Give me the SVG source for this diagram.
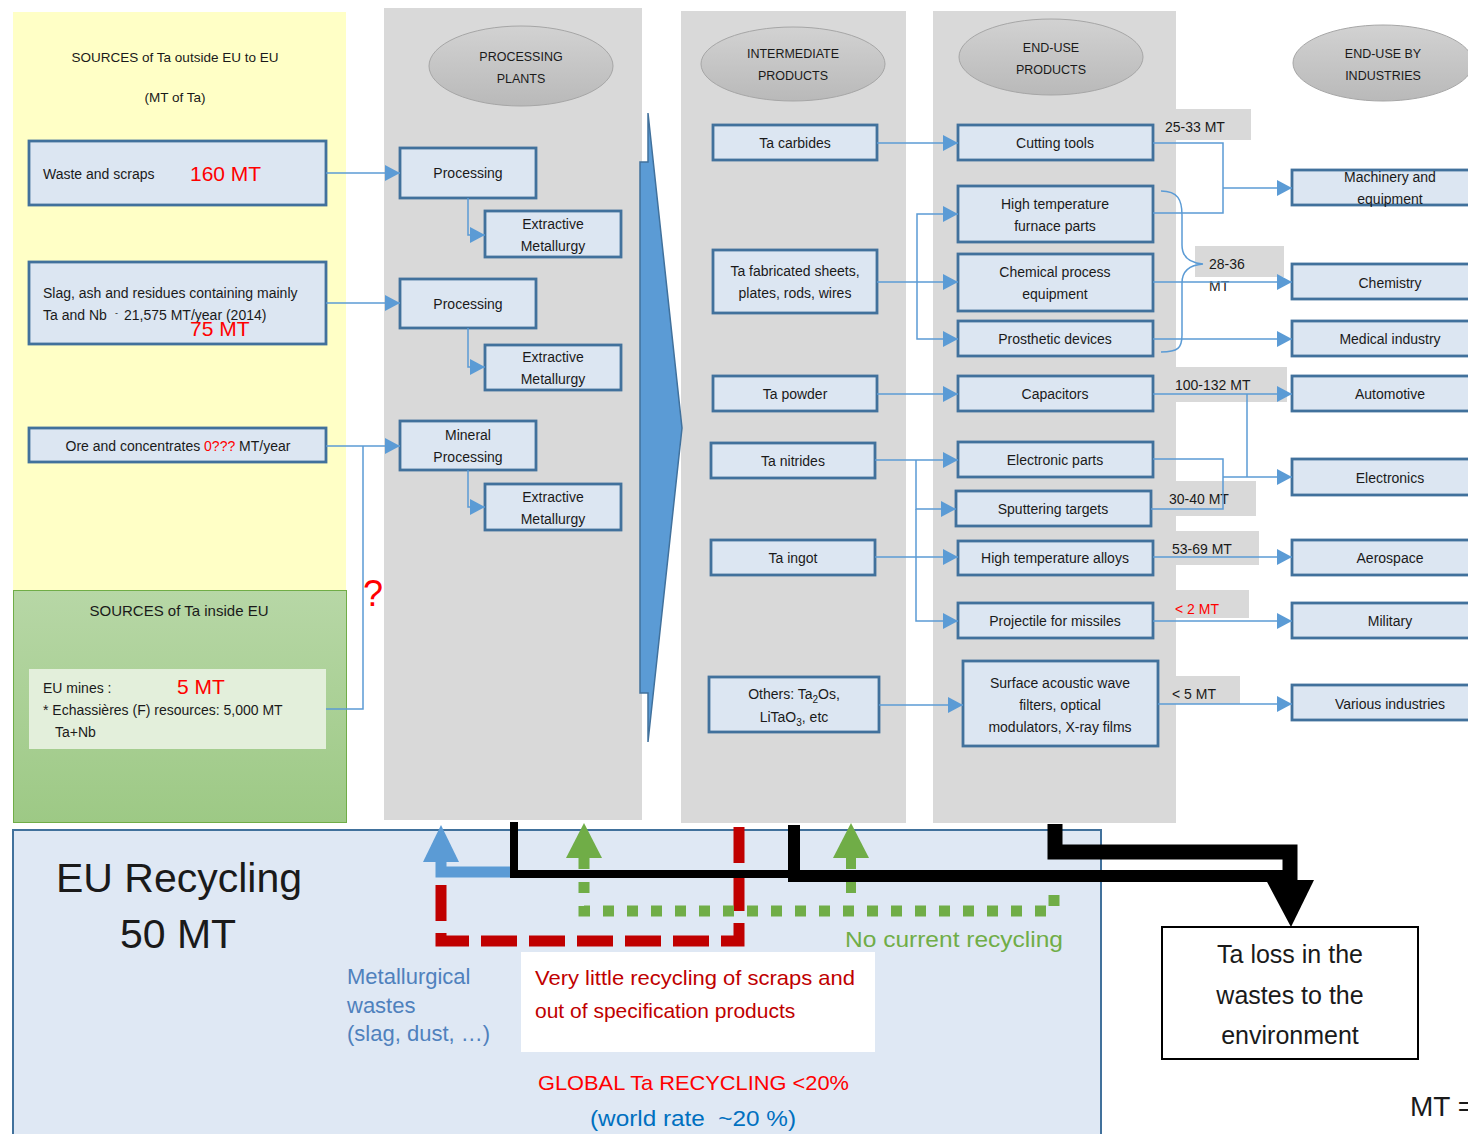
<svg xmlns="http://www.w3.org/2000/svg" width="1468" height="1134" viewBox="0 0 1468 1134">
<defs>
<style>
text{font-family:"Liberation Sans",Arial,sans-serif;fill:#1a1a1a}
.t14{font-size:14px}
.t13{font-size:13.5px}
.mid{text-anchor:middle}
.box{fill:#dce6f2;stroke:#41719c;stroke-width:2.8}
.panel{fill:#d9d9d9}
.lab{fill:#d9d9d9}
.ell{fill:url(#eg);stroke:#a6a6a6;stroke-width:1}
.et{font-size:12.5px;text-anchor:middle}
.con{fill:none;stroke:#5b9bd5;stroke-width:1.5}
.red{fill:#ff0000}
.big{font-size:21px}
</style>
<linearGradient id="eg" x1="0" y1="0" x2="0" y2="1"><stop offset="0" stop-color="#d2d2d2"/><stop offset="1" stop-color="#b9b9b9"/></linearGradient>
<linearGradient id="gg" x1="0" y1="0" x2="0" y2="1"><stop offset="0" stop-color="#b7d7a6"/><stop offset="1" stop-color="#9dc985"/></linearGradient>
<marker id="ar" markerUnits="userSpaceOnUse" markerWidth="16" markerHeight="16" refX="15" refY="8" orient="auto"><path d="M0,0 L15,8 L0,16 z" fill="#5b9bd5"/></marker>
</defs>

<!-- backgrounds -->
<rect x="13" y="12" width="333" height="578" fill="#ffffc6"/>
<rect x="13.5" y="590.5" width="333" height="232" fill="url(#gg)" stroke="#70ad47" stroke-width="1"/>
<rect class="panel" x="384" y="8" width="258" height="812"/>
<rect class="panel" x="681" y="11" width="225" height="812"/>
<rect class="panel" x="933" y="11" width="243" height="812"/>
<rect class="lab" x="1159" y="109" width="92" height="31"/>
<rect class="lab" x="1195" y="246" width="89" height="31"/>
<rect class="lab" x="1159" y="367" width="128" height="35"/>
<rect class="lab" x="1159" y="481" width="97" height="35"/>
<rect class="lab" x="1159" y="531" width="100" height="34"/>
<rect class="lab" x="1159" y="590" width="90" height="28"/>
<rect class="lab" x="1159" y="676" width="81" height="28"/>
<rect x="13" y="830" width="1088" height="310" fill="#dfe8f4" stroke="#41719c" stroke-width="2"/>

<!-- headers -->
<g id="hdr-sources">
<text class="t13 mid" x="175" y="62">SOURCES of Ta outside EU to EU</text>
<text class="t13 mid" x="175" y="102">(MT of Ta)</text>
</g>
<g id="hdr-processing"><ellipse class="ell" cx="521" cy="66" rx="92" ry="40"/><text class="et" x="521" y="61">PROCESSING</text><text class="et" x="521" y="83">PLANTS</text></g>
<g id="hdr-intermediate"><ellipse class="ell" cx="793" cy="64" rx="92" ry="37"/><text class="et" x="793" y="58">INTERMEDIATE</text><text class="et" x="793" y="80">PRODUCTS</text></g>
<g id="hdr-enduse"><ellipse class="ell" cx="1051" cy="57" rx="92" ry="38"/><text class="et" x="1051" y="52">END-USE</text><text class="et" x="1051" y="74">PRODUCTS</text></g>
<g id="hdr-industries"><ellipse class="ell" cx="1383" cy="63" rx="90" ry="38"/><text class="et" x="1383" y="58">END-USE BY</text><text class="et" x="1383" y="80">INDUSTRIES</text></g>

<!-- sources -->
<g id="src-waste"><rect class="box" x="29" y="141" width="297" height="64"/><text class="t14" x="43" y="179">Waste and scraps</text><text class="big red" x="190" y="181">160 MT</text></g>
<g id="src-slag"><rect class="box" x="29" y="262" width="297" height="82"/><text class="t14" x="43" y="298">Slag, ash and residues containing mainly</text><text class="t14" x="43" y="320">Ta and Nb</text><text style="font-size:9px" x="115" y="316">-</text><text class="t14" x="124" y="320">21,575 MT/year (2014)</text><text class="big red" x="190" y="336">75 MT</text></g>
<g id="src-ore"><rect class="box" x="29" y="428" width="297" height="34"/><text class="t14 mid" x="178" y="451">Ore and concentrates <tspan class="red">0???</tspan> MT/year</text></g>
<g id="src-eu">
<text class="mid" style="font-size:15px" x="179" y="616">SOURCES of Ta inside EU</text>
<rect x="29" y="669" width="297" height="80" fill="#e3efdb"/>
<text class="t14" x="43" y="693">EU mines :</text><text class="big red" x="177" y="694">5 MT</text>
<text class="t14" x="43" y="715">* Echassières (F) resources: 5,000 MT</text>
<text class="t14" x="55" y="737">Ta+Nb</text>
</g>
<text x="363" y="606" style="font-size:36px;fill:#ff0000">?</text>

<!-- processing -->
<g id="proc1"><rect class="box" x="400" y="148" width="136" height="50"/><text class="t14 mid" x="468" y="178">Processing</text></g>
<g id="ext1"><rect class="box" x="485" y="211" width="136" height="46"/><text class="t14 mid" x="553" y="229">Extractive</text><text class="t14 mid" x="553" y="251">Metallurgy</text></g>
<g id="proc2"><rect class="box" x="400" y="279" width="136" height="49"/><text class="t14 mid" x="468" y="309">Processing</text></g>
<g id="ext2"><rect class="box" x="485" y="345" width="136" height="45"/><text class="t14 mid" x="553" y="362">Extractive</text><text class="t14 mid" x="553" y="384">Metallurgy</text></g>
<g id="proc3"><rect class="box" x="400" y="421" width="136" height="49"/><text class="t14 mid" x="468" y="440">Mineral</text><text class="t14 mid" x="468" y="462">Processing</text></g>
<g id="ext3"><rect class="box" x="485" y="484" width="136" height="46"/><text class="t14 mid" x="553" y="502">Extractive</text><text class="t14 mid" x="553" y="524">Metallurgy</text></g>

<g id="big-arrow"><polygon points="640,162 648,162 648,113 682,428 648,742 648,693 640,693" fill="#5b9bd5" stroke="#41719c" stroke-width="1.5"/></g>

<!-- intermediate -->
<g id="int-carbides"><rect class="box" x="713" y="125" width="164" height="35"/><text class="t14 mid" x="795" y="148">Ta carbides</text></g>
<g id="int-sheets"><rect class="box" x="713" y="250" width="164" height="63"/><text class="t14 mid" x="795" y="276">Ta fabricated sheets,</text><text class="t14 mid" x="795" y="298">plates, rods, wires</text></g>
<g id="int-powder"><rect class="box" x="713" y="376" width="164" height="35"/><text class="t14 mid" x="795" y="399">Ta powder</text></g>
<g id="int-nitrides"><rect class="box" x="711" y="443" width="164" height="35"/><text class="t14 mid" x="793" y="466">Ta nitrides</text></g>
<g id="int-ingot"><rect class="box" x="711" y="540" width="164" height="35"/><text class="t14 mid" x="793" y="563">Ta ingot</text></g>
<g id="int-others"><rect class="box" x="709" y="677" width="170" height="55"/><text class="t14 mid" x="794" y="699">Others: Ta<tspan style="font-size:10px" dy="4">2</tspan><tspan dy="-4">Os,</tspan></text><text class="t14 mid" x="794" y="722">LiTaO<tspan style="font-size:10px" dy="4">3</tspan><tspan dy="-4">, etc</tspan></text></g>

<!-- end-use products -->
<g id="eu-cutting"><rect class="box" x="958" y="125" width="195" height="35"/><text class="t14 mid" x="1055" y="148">Cutting tools</text></g>
<g id="eu-furnace"><rect class="box" x="958" y="186" width="195" height="56"/><text class="t14 mid" x="1055" y="209">High temperature</text><text class="t14 mid" x="1055" y="231">furnace parts</text></g>
<g id="eu-chem"><rect class="box" x="958" y="254" width="195" height="57"/><text class="t14 mid" x="1055" y="277">Chemical process</text><text class="t14 mid" x="1055" y="299">equipment</text></g>
<g id="eu-prosth"><rect class="box" x="958" y="321" width="195" height="35"/><text class="t14 mid" x="1055" y="344">Prosthetic devices</text></g>
<g id="eu-capac"><rect class="box" x="958" y="376" width="195" height="35"/><text class="t14 mid" x="1055" y="399">Capacitors</text></g>
<g id="eu-elec"><rect class="box" x="958" y="442" width="195" height="35"/><text class="t14 mid" x="1055" y="465">Electronic parts</text></g>
<g id="eu-sputter"><rect class="box" x="956" y="491" width="195" height="35"/><text class="t14 mid" x="1053" y="514">Sputtering targets</text></g>
<g id="eu-alloys"><rect class="box" x="958" y="541" width="195" height="34"/><text class="t14 mid" x="1055" y="563">High temperature alloys</text></g>
<g id="eu-proj"><rect class="box" x="958" y="603" width="195" height="35"/><text class="t14 mid" x="1055" y="626">Projectile for missiles</text></g>
<g id="eu-saw"><rect class="box" x="963" y="661" width="195" height="85"/><text class="t14 mid" x="1060" y="688">Surface acoustic wave</text><text class="t14 mid" x="1060" y="710">filters, optical</text><text class="t14 mid" x="1060" y="732">modulators, X-ray films</text></g>

<!-- industries -->
<g id="ind-mach"><rect class="box" x="1292" y="170" width="200" height="35"/><text class="t14 mid" x="1390" y="182">Machinery and</text><text class="t14 mid" x="1390" y="204">equipment</text></g>
<g id="ind-chem"><rect class="box" x="1292" y="264" width="200" height="35"/><text class="t14 mid" x="1390" y="288">Chemistry</text></g>
<g id="ind-med"><rect class="box" x="1292" y="321" width="200" height="35"/><text class="t14 mid" x="1390" y="344">Medical industry</text></g>
<g id="ind-auto"><rect class="box" x="1292" y="376" width="200" height="35"/><text class="t14 mid" x="1390" y="399">Automotive</text></g>
<g id="ind-elec"><rect class="box" x="1292" y="459" width="200" height="36"/><text class="t14 mid" x="1390" y="483">Electronics</text></g>
<g id="ind-aero"><rect class="box" x="1292" y="540" width="200" height="35"/><text class="t14 mid" x="1390" y="563">Aerospace</text></g>
<g id="ind-mil"><rect class="box" x="1292" y="603" width="200" height="35"/><text class="t14 mid" x="1390" y="626">Military</text></g>
<g id="ind-var"><rect class="box" x="1292" y="685" width="200" height="35"/><text class="t14 mid" x="1390" y="709">Various industries</text></g>

<!-- flow labels -->
<g id="flow-labels" class="t14">
<text x="1165" y="132">25-33 MT</text>
<text x="1209" y="269">28-36</text><text x="1209" y="291">MT</text>
<text x="1175" y="390">100-132 MT</text>
<text x="1169" y="504">30-40 MT</text>
<text x="1172" y="554">53-69 MT</text>
<text x="1175" y="614" class="red">&lt; 2 MT</text>
<text x="1172" y="699">&lt; 5 MT</text>
</g>

<!-- connectors -->
<g id="connectors">
<path class="con" d="M326,173 H400" marker-end="url(#ar)"/>
<path class="con" d="M326,303 H400" marker-end="url(#ar)"/>
<path class="con" d="M326,446 H400" marker-end="url(#ar)"/>
<path class="con" d="M326,709 H363 V446"/>
<path class="con" d="M468,198 V235 H485" marker-end="url(#ar)"/>
<path class="con" d="M468,328 V367 H485" marker-end="url(#ar)"/>
<path class="con" d="M468,470 V507 H485" marker-end="url(#ar)"/>

<path class="con" d="M877,143 H958" marker-end="url(#ar)"/>
<path class="con" d="M877,282 H958" marker-end="url(#ar)"/>
<path class="con" d="M917,282 V214 H958" marker-end="url(#ar)"/>
<path class="con" d="M917,282 V339 H958" marker-end="url(#ar)"/>
<path class="con" d="M877,394 H958" marker-end="url(#ar)"/>
<path class="con" d="M875,460 H958" marker-end="url(#ar)"/>
<path class="con" d="M875,557 H958" marker-end="url(#ar)"/>
<path class="con" d="M916,460 V509 H956" marker-end="url(#ar)"/>
<path class="con" d="M916,557 V621 H958" marker-end="url(#ar)"/>
<path class="con" d="M916,509 V557"/>
<path class="con" d="M879,705 H963" marker-end="url(#ar)"/>

<path class="con" d="M1153,143 H1223 V213 H1153"/>
<path class="con" d="M1223,188 H1292" marker-end="url(#ar)"/>
<path class="con" d="M1161,191 C1178,191 1182,200 1182,215 V245 C1182,258 1190,263 1203,264 C1190,265 1182,270 1182,283 V335 C1182,348 1178,352 1161,352"/>
<path class="con" d="M1153,282 H1292" marker-end="url(#ar)"/>
<path class="con" d="M1153,339 H1292" marker-end="url(#ar)"/>
<path class="con" d="M1153,394 H1292" marker-end="url(#ar)"/>
<path class="con" d="M1247,394 V477"/>
<path class="con" d="M1153,459 H1223 V509 H1151"/>
<path class="con" d="M1223,477 H1292" marker-end="url(#ar)"/>
<path class="con" d="M1153,557 H1292" marker-end="url(#ar)"/>
<path class="con" d="M1153,621 H1292" marker-end="url(#ar)"/>
<path class="con" d="M1158,704 H1292" marker-end="url(#ar)"/>

<!-- recycling flows -->
<path d="M441,885 V941 H739 V823" fill="none" stroke="#c00000" stroke-width="11" stroke-dasharray="36 12"/>
<path d="M584,858 V911 H1054 V882" fill="none" stroke="#70ad47" stroke-width="11" stroke-dasharray="11 13"/>
<path d="M851,858 V905" fill="none" stroke="#70ad47" stroke-width="10" stroke-dasharray="11 13"/>
<polygon points="584,823 566,858 602,858" fill="#70ad47"/>
<polygon points="851,823 833,858 869,858" fill="#70ad47"/>
<path d="M441,860 V872 H512" fill="none" stroke="#5b9bd5" stroke-width="11"/>
<polygon points="441,825 423,862 459,862" fill="#5b9bd5"/>
<path d="M514,822 V874 H792" fill="none" stroke="#000" stroke-width="8"/>
<path d="M794,825 V876 H1285" fill="none" stroke="#000" stroke-width="12"/>
<path d="M1055,824 V852 H1290 V882" fill="none" stroke="#000" stroke-width="15"/>
<polygon points="1266,880 1314,880 1291,927" fill="#000"/>
</g>

<!-- recycling texts -->
<g id="recycling">
<text x="56" y="892" style="font-size:41px">EU Recycling</text>
<text x="178" y="948" class="mid" style="font-size:41px">50 MT</text>
<text x="347" y="984" style="font-size:22px;fill:#4f81bd">Metallurgical</text>
<text x="347" y="1013" style="font-size:22px;fill:#4f81bd">wastes</text>
<text x="347" y="1041" style="font-size:22px;fill:#4f81bd">(slag, dust, …)</text>
<rect x="521" y="952" width="354" height="100" fill="#fff"/>
<text x="535" y="985" style="font-size:21px;fill:#c00000" textLength="320" lengthAdjust="spacingAndGlyphs">Very little recycling of scraps and</text>
<text x="535" y="1018" style="font-size:21px;fill:#c00000">out of specification products</text>
<text x="845" y="947" style="font-size:22px;fill:#70ad47" textLength="218" lengthAdjust="spacingAndGlyphs">No current recycling</text>
<text x="538" y="1090" style="font-size:21px;fill:#ff0000" textLength="311" lengthAdjust="spacingAndGlyphs">GLOBAL Ta RECYCLING &lt;20%</text>
<text x="590" y="1126" xml:space="preserve" style="font-size:22px;fill:#0070c0;white-space:pre" textLength="206" lengthAdjust="spacingAndGlyphs">(world rate  ~20 %)</text>
</g>

<g id="loss"><rect x="1162" y="927" width="256" height="132" fill="#fff" stroke="#000" stroke-width="2"/>
<text class="mid" x="1290" y="963" style="font-size:25px">Ta loss in the</text>
<text class="mid" x="1290" y="1004" style="font-size:25px">wastes to the</text>
<text class="mid" x="1290" y="1044" style="font-size:25px">environment</text>
</g>
<text x="1410" y="1116" style="font-size:28px">MT =</text>
</svg>
